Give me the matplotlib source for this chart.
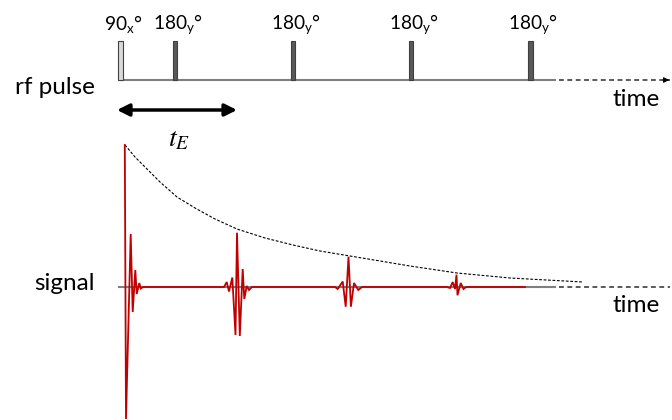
import numpy as np
import matplotlib.pyplot as plt

plt.rcParams["font.family"] = ["Lato", "DejaVu Sans"]

# rf pulse train (pixel positions)
pulse_x = [120.3, 175.2, 293.2, 411.0, 530.5]
pulse_labels = ["90$_\\mathregular{x}$°", "180$_\\mathregular{y}$°", "180$_\\mathregular{y}$°",
                "180$_\\mathregular{y}$°", "180$_\\mathregular{y}$°"]
pulse_fill = ["#d9d9d9", "#595959", "#595959", "#595959", "#595959"]

# T2 envelope (dashed)
env_x = [125, 135, 145, 160, 177, 195, 215, 237, 265, 293, 320, 350, 380, 410, 457, 510, 583]
env_y = [145, 157, 167, 182, 197, 208, 219, 229, 238, 245, 251, 256, 261, 266, 273, 278, 282]

# FID + spin echoes (red trace vertices)
sig_x = [124.8, 126.0, 130.7, 132.7, 135.3, 136.7, 139.3, 140.7, 143.0,
         224.0, 226.7, 229.0, 232.3, 235.5, 237.0, 239.8, 242.7, 244.3, 246.7, 249.0, 252.0,
         335.0, 337.7, 342.7, 345.7, 348.5, 350.9, 354.0, 358.3, 362.0,
         447.0, 450.0, 452.7, 455.0, 456.5, 457.5, 460.7, 463.5, 466.0,
         525.0]
sig_y = [145, 419, 234, 312, 270, 294, 283, 288.5, 287,
         287, 282, 291.5, 277.5, 335, 232.7, 336, 269, 299, 286, 290, 287,
         287, 289, 281.5, 306.7, 256.7, 306.7, 283, 290, 287,
         287, 288, 282, 289, 274.7, 295.3, 283, 289, 287,
         287]

rf_base = 80
sig_base = 287
x_start = 118
x_solid_end = 556
x_end = 670

fig = plt.figure(figsize=(6.72, 4.2), dpi=100)
ax = fig.add_axes([0, 0, 1, 1])
ax.set_xlim(0, 672)
ax.set_ylim(420, 0)
ax.axis("off")

# baselines
for yb in (rf_base, sig_base):
    ax.plot([x_start, x_solid_end], [yb, yb], color="#7f7f7f", lw=1.5, solid_capstyle="butt")
    ax.plot([x_solid_end + 3, x_end], [yb, yb], color="#595959", lw=1.4,
            dashes=(2.5, 1.8))
ax.annotate("", xy=(672, rf_base), xytext=(664, rf_base),
            arrowprops=dict(arrowstyle="-|>", color="black", lw=0.8, mutation_scale=8))

# pulses
for px, lab, fc in zip(pulse_x, pulse_labels, pulse_fill):
    ax.add_patch(plt.Rectangle((px - 2.2, 41), 4.4, rf_base - 41, facecolor=fc,
                               edgecolor="#404040", lw=0.8, zorder=3))
    ax.text(px + 3, 25, lab, ha="center", va="center", fontsize=13.8)

# echo time arrow
ax.annotate("", xy=(237, 110), xytext=(117, 110),
            arrowprops=dict(arrowstyle="<|-|>", color="black", lw=2.5, mutation_scale=18,
                            shrinkA=0, shrinkB=0))
ax.text(179, 139, "$t_E$", ha="center", va="center", fontsize=20, math_fontfamily="stix")

# envelope and signal
ax.plot(env_x, env_y, color="black", lw=0.8, dashes=(2.5, 1.5))
ax.plot(sig_x, sig_y, color="#c00000", lw=1.3, solid_joinstyle="miter")

# labels
ax.text(95, 88, "rf pulse", ha="right", va="center", fontsize=17.5)
ax.text(95, 283, "signal", ha="right", va="center", fontsize=17.5)
ax.text(660, 100, "time", ha="right", va="center", fontsize=17.5)
ax.text(660, 305, "time", ha="right", va="center", fontsize=17.5)

fig.savefig("out.png", dpi=100)
